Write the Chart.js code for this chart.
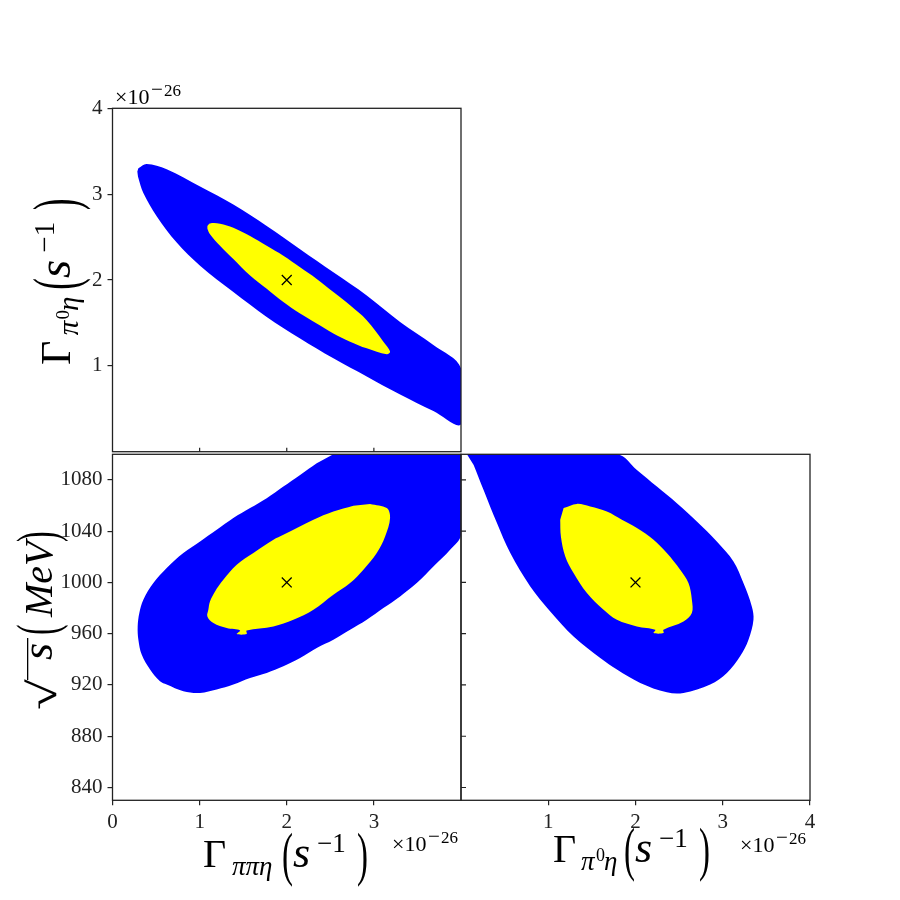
<!DOCTYPE html>
<html>
<head>
<meta charset="utf-8">
<script src="https://cdn.jsdelivr.net/npm/chart.js@4/dist/chart.umd.min.js"></script>
<style>
  body { margin: 0; background: #fff; }
  #wrap { position: relative; width: 900px; height: 900px; }
  #wrap canvas { position: absolute; }
</style>
</head>
<body>
<div id="wrap">
  <canvas id="tl" width="470" height="460" style="left:0;top:0"></canvas>
  <canvas id="bl" width="470" height="460" style="left:0;top:440px"></canvas>
  <canvas id="br" width="448" height="460" style="left:452px;top:440px"></canvas>
</div>
<script>
// best fit point (widths in units of 1e-26 s^-1, sqrt(s) in MeV)
const bestGammaPiPiEta = 2;
const bestGammaPi0Eta = 2;
const bestSqrtS = 1000;

// axis ranges and ticks
const gammaRange = [0, 4];
const sqrtSRange = [830, 1100];
const gammaPi0EtaTicksLeft = [1, 2, 3, 4];
const gammaInnerTicks = [1, 2, 3];
const gammaPiPiEtaTicks = [0, 1, 2, 3];
const gammaPi0EtaTicksBottom = [1, 2, 3, 4];
const sqrtSTicks = [840, 880, 920, 960, 1000, 1040, 1080];

// contours: [x, y]
// top-left: Γ_ππη vs Γ_π0η
const tlOuter = [[0.297,3.302],[0.392,3.352],[0.622,3.291],[1.005,3.090],[1.387,2.879],[1.770,2.629],[2.153,2.359],[2.535,2.090],[2.918,1.820],[3.301,1.512],[3.683,1.243],[4,0.973],[4,0.319],[3.683,0.473],[3.301,0.666],[2.918,0.877],[2.535,1.089],[2.153,1.320],[1.770,1.570],[1.387,1.859],[1.005,2.167],[0.737,2.436],[0.507,2.744],[0.354,3.013],[0.297,3.187],[0.285,3.264]];
const tlInner = [[1.089,2.629],[1.119,2.659],[1.234,2.656],[1.387,2.609],[1.579,2.513],[1.770,2.398],[1.961,2.282],[2.153,2.148],[2.344,2.013],[2.535,1.859],[2.727,1.705],[2.918,1.532],[3.109,1.282],[3.186,1.166],[3.148,1.135],[2.918,1.204],[2.727,1.282],[2.535,1.378],[2.344,1.493],[2.153,1.609],[1.961,1.743],[1.770,1.897],[1.579,2.051],[1.387,2.244],[1.234,2.398],[1.119,2.532],[1.089,2.598]];
// bottom-left: Γ_ππη vs sqrt(s)
const blOuter = [[2.535,1100],[4,1100],[4,1037.2],[3.875,1025.5],[3.683,1012.5],[3.492,999.5],[3.301,989.1],[3.109,980.0],[2.918,970.9],[2.727,963.1],[2.535,955.3],[2.344,948.9],[2.153,941.1],[1.961,934.6],[1.770,929.4],[1.579,925.5],[1.387,920.3],[1.196,916.4],[1.005,913.8],[0.813,915.1],[0.622,920.3],[0.545,922.9],[0.431,932.0],[0.335,943.7],[0.297,955.3],[0.289,965.7],[0.308,976.1],[0.354,986.5],[0.469,999.5],[0.622,1011.2],[0.813,1022.9],[1.005,1032.0],[1.196,1041.1],[1.387,1050.2],[1.579,1058.0],[1.770,1065.7],[1.961,1074.8],[2.153,1083.9],[2.344,1093.0]];
const blInner = [[2.956,1061.3],[3.148,1058.0],[3.186,1050.2],[3.129,1035.9],[3.033,1022.9],[2.880,1009.9],[2.727,999.5],[2.535,990.4],[2.306,978.7],[2.076,970.9],[1.847,965.7],[1.540,962.6],[1.540,959.8],[1.426,959.8],[1.464,962.6],[1.311,964.4],[1.158,968.3],[1.089,973.5],[1.100,978.7],[1.119,985.2],[1.177,993.0],[1.272,1002.1],[1.426,1013.8],[1.617,1022.9],[1.847,1033.3],[1.961,1037.2],[2.306,1048.9],[2.535,1055.3],[2.765,1059.8]];
// bottom-right: Γ_π0η vs sqrt(s)
const brOuter = [[0.068,1100],[1.787,1100],[2.016,1087.8],[2.245,1074.8],[2.474,1061.8],[2.703,1047.6],[2.932,1032.0],[3.123,1016.4],[3.237,999.5],[3.333,981.3],[3.352,970.9],[3.295,955.3],[3.199,942.4],[3.047,929.4],[2.856,920.3],[2.550,913.8],[2.359,914.3],[2.054,921.6],[1.787,932.0],[1.596,941.1],[1.290,957.9],[1.023,977.4],[0.794,996.9],[0.565,1022.9],[0.412,1046.3],[0.259,1072.2],[0.145,1091.7]];
const brInner = [[1.176,1058.0],[1.328,1061.3],[1.481,1059.2],[1.672,1055.3],[1.844,1048.9],[2.016,1042.4],[2.207,1033.3],[2.359,1022.9],[2.512,1009.9],[2.607,999.5],[2.646,986.5],[2.646,976.1],[2.550,969.6],[2.321,963.1],[2.321,960.5],[2.207,960.5],[2.226,963.1],[2.016,965.7],[1.787,970.9],[1.634,978.7],[1.443,991.7],[1.290,1007.3],[1.195,1020.3],[1.145,1035.9],[1.137,1048.9]];

const SERIF = "'Liberation Serif', 'DejaVu Serif', serif";
const BLUE = '#0000ff';
const YELLOW = '#ffff00';

const pts = (arr) => arr.map(([x, y]) => ({ x, y }));

function region(arr, color) {
  return {
    data: pts(arr), showLine: true, fill: 'shape', tension: 0.35,
    backgroundColor: color, borderWidth: 0, pointRadius: 0, order: color === BLUE ? 2 : 1,
  };
}

function marker(x, y) {
  return {
    data: [{ x, y }], showLine: false, pointStyle: 'crossRot', pointRadius: 7,
    borderColor: '#000', borderWidth: 1.3, backgroundColor: '#000', order: 0,
  };
}

function axis([min, max], ticks, show, size, horizontal) {
  return {
    type: 'linear', min, max, display: show,
    afterBuildTicks: (s) => { s.ticks = ticks.map((v) => ({ value: v })); },
    afterFit: (s) => {
      if (horizontal) s.height = size; else s.width = size;
      s.paddingLeft = s.paddingRight = s.paddingTop = s.paddingBottom = 0;
    },
    ticks: {
      color: '#222', padding: 5, autoSkip: false, maxRotation: 0,
      font: { family: SERIF, size: 21 },
      callback: (v) => String(v),
    },
    grid: { drawOnChartArea: false, tickLength: 5, color: '#222', lineWidth: 1.2 },
    border: { display: false },
  };
}

function drawMath(ctx, spec) {
  const k = spec.scale || 1;
  ctx.save();
  ctx.translate(spec.x, spec.y);
  if (spec.rot) ctx.rotate(-Math.PI / 2);
  ctx.fillStyle = '#000';
  ctx.textBaseline = 'alphabetic';
  ctx.textAlign = 'left';
  for (const p of spec.parts) {
    if (p.bar) { ctx.fillRect(p.dx * k, p.dy * k, p.w * k, 1.3); continue; }
    ctx.save();
    ctx.translate(p.dx * k, (p.dy || 0) * k);
    if (p.sx) ctx.scale(p.sx, 1);
    ctx.font = `${p.it ? 'italic ' : ''}${Math.round(p.size * k)}px ${SERIF}`;
    ctx.fillText(p.t, 0, 0);
    ctx.restore();
  }
  ctx.restore();
}

// page-pixel layout of the text pieces
const piPiEta = [
  { t: 'Γ', dx: 0, size: 40 },
  { t: 'ππη', dx: 29, dy: 8, size: 27, it: true },
  { t: '(', dx: 79, dy: 7, size: 60, sx: 0.55 },
  { t: 's', dx: 90, size: 44, it: true },
  { t: '−1', dx: 114, dy: -15, size: 27 },
  { t: ')', dx: 154, dy: 7, size: 60, sx: 0.55 },
];
const pi0Eta = [
  { t: 'Γ', dx: 0, size: 40 },
  { t: 'π', dx: 28, dy: 8, size: 27, it: true },
  { t: '0', dx: 43, dy: -1, size: 18 },
  { t: 'η', dx: 51, dy: 8, size: 27, it: true },
  { t: '(', dx: 71, dy: 7, size: 60, sx: 0.55 },
  { t: 's', dx: 82, size: 44, it: true },
  { t: '−1', dx: 106, dy: -15, size: 27 },
  { t: ')', dx: 146, dy: 7, size: 60, sx: 0.55 },
];
const sqrtS = [
  { t: '√', dx: 0, dy: 4, size: 40, sx: 1.4 },
  { bar: true, dx: 30, dy: -25, w: 42 },
  { t: 's', dx: 50, size: 44, it: true },
  { t: '(', dx: 75, dy: 4, size: 58, sx: 0.55 },
  { t: 'MeV', dx: 93, size: 40, it: true },
  { t: ')', dx: 168, dy: 4, size: 58, sx: 0.55 },
];
const times = [
  { t: '×10', dx: 0, size: 22 },
  { t: '−', dx: 36, dy: -8, size: 21 },
  { t: '26', dx: 49, dy: -8, size: 17 },
];

function decor(ox, oy, texts, innerX, innerY) {
  return {
    id: 'decor',
    afterDraw(chart) {
      const { ctx, chartArea: a, scales } = chart;
      ctx.save();
      ctx.strokeStyle = '#222';
      ctx.lineWidth = 1.3;
      ctx.strokeRect(a.left, a.top, a.right - a.left, a.bottom - a.top);
      ctx.lineWidth = 1.2;
      ctx.beginPath();
      innerX.forEach((v) => {
        const px = scales.x.getPixelForValue(v);
        ctx.moveTo(px, a.bottom); ctx.lineTo(px, a.bottom - 4);
      });
      innerY.forEach((v) => {
        const py = scales.y.getPixelForValue(v);
        ctx.moveTo(a.left, py); ctx.lineTo(a.left + 5, py);
      });
      ctx.stroke();
      ctx.restore();
      texts.forEach((t) => drawMath(ctx, { ...t, x: t.x - ox, y: t.y - oy }));
    },
  };
}

function panel(id, datasets, scales, padding, plugin) {
  return new Chart(document.getElementById(id), {
    type: 'scatter',
    data: { datasets },
    options: {
      responsive: false, animation: false, events: [], devicePixelRatio: 1,
      layout: { padding },
      plugins: { legend: { display: false }, tooltip: { enabled: false } },
      scales,
    },
    plugins: [plugin],
  });
}

panel('tl',
  [marker(bestGammaPiPiEta, bestGammaPi0Eta), region(tlInner, YELLOW), region(tlOuter, BLUE)],
  { x: axis(gammaRange, gammaInnerTicks, false, 0, true),
    y: axis(gammaRange, gammaPi0EtaTicksLeft, true, 112.5, false) },
  { top: 108.3, right: 9, bottom: 5.7, left: 0 },
  decor(0, 0, [
    { x: 70, y: 365, rot: true, scale: 1.06, parts: pi0Eta },
    { x: 115, y: 104, parts: times },
  ], gammaInnerTicks, []));

panel('bl',
  [marker(bestGammaPiPiEta, bestSqrtS), region(blInner, YELLOW), region(blOuter, BLUE)],
  { x: axis(gammaRange, gammaPiPiEtaTicks, true, 99.7, true),
    y: axis(sqrtSRange, sqrtSTicks, true, 112.5, false) },
  { top: 14.3, right: 9, bottom: 0, left: 0 },
  decor(0, 440, [
    { x: 203, y: 867, parts: piPiEta },
    { x: 392, y: 851, parts: times },
    { x: 52, y: 710, rot: true, parts: sqrtS },
  ], [], []));

panel('br',
  [marker(bestGammaPi0Eta, bestSqrtS), region(brInner, YELLOW), region(brOuter, BLUE)],
  { x: axis(gammaRange, gammaPi0EtaTicksBottom, true, 99.7, true),
    y: axis(sqrtSRange, sqrtSTicks, false, 0, false) },
  { top: 14.3, right: 90, bottom: 0, left: 9 },
  decor(452, 440, [
    { x: 553, y: 862, parts: pi0Eta },
    { x: 740, y: 852, parts: times },
  ], [], sqrtSTicks));
</script>
</body>
</html>
